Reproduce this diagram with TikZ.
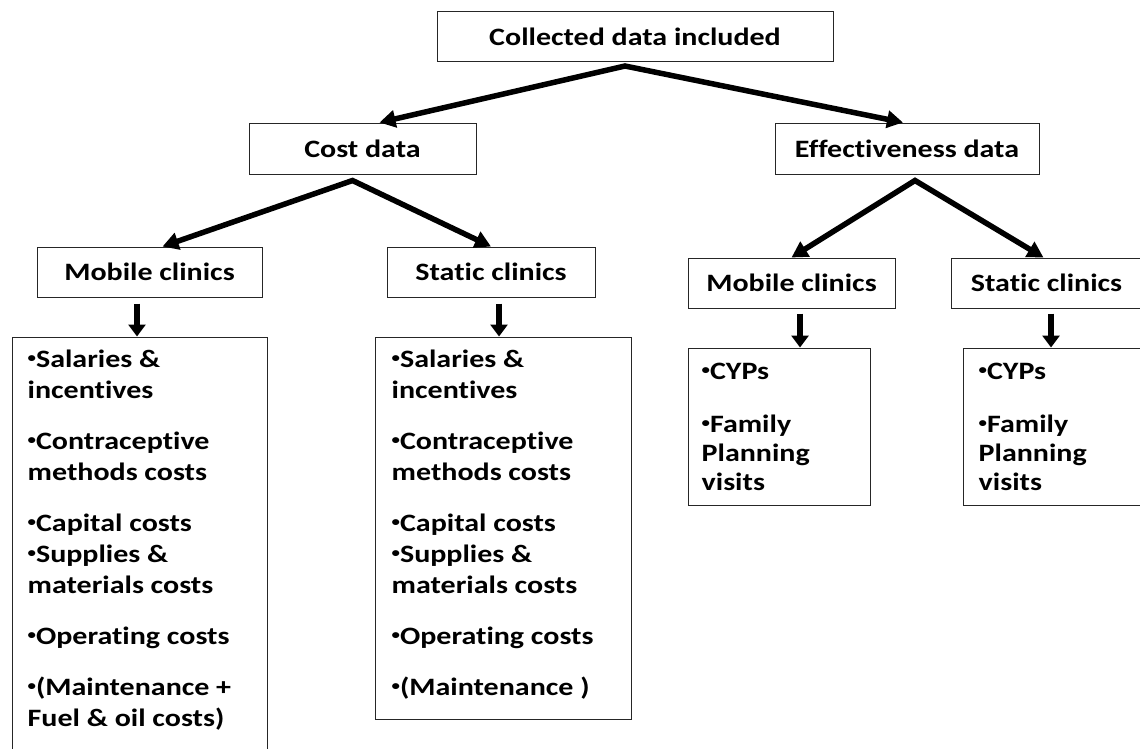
\documentclass[tikz,border=0pt]{standalone}
\usepackage{fontspec}
\setmainfont{Carlito}[FakeStretch=1.2, Ligatures=NoCommon]
\usetikzlibrary{arrows.meta}

\newcommand{\itm}{{\fontsize{14}{14}\selectfont\raisebox{5pt}{•}}}

\begin{document}
\begin{tikzpicture}[x=1pt, y=-1pt,
  box/.style = {draw=black!85, line width=1pt, minimum height=50pt, inner sep=0pt, font=\fontsize{25}{31}\selectfont\bfseries},
  listbox/.style = {draw=black!85, line width=1pt, inner sep=0pt},
  items/.style = {anchor=base west, inner sep=0pt, font=\fontsize{25}{31}\selectfont\bfseries},
  cyps/.style = {anchor=base west, inner sep=0pt, font=\fontsize{25}{29}\selectfont\bfseries},
  arr/.style = {line width=5.5pt, {Triangle[length=16pt, width=17pt]}-{Triangle[length=16pt, width=17pt]}},
  darr/.style = {line width=5.5pt, -{Triangle[length=12pt, width=17pt]}}]

\useasboundingbox (0, 0) rectangle (1140, 748);
\clip (0, 0) rectangle (1140, 748);

% boxes
\node[box, minimum width=396pt] (top) at (635, 36.5) {Collected data included};

\node[box, minimum width=227pt, minimum height=51pt] (cost) at (362.5, 148.5) {Cost data};
\node[box, minimum width=264pt, minimum height=51pt] (eff) at (907, 148.5) {Effectiveness data};

\node[box, minimum width=225pt] (mobA) at (149.5, 272) {Mobile clinics};
\node[box, minimum width=208pt] (statA) at (491, 272) {Static clinics};
\node[box, minimum width=207pt] (mobB) at (791.5, 283) {Mobile clinics};
\node[box, minimum width=191pt] (statB) at (1046.5, 283) {Static clinics};

\node[listbox, minimum width=255pt, minimum height=440pt] (listA) at (139.5, 557) {};
\node[listbox, minimum width=256pt, minimum height=382pt] (listB) at (503, 528) {};
\node[listbox, minimum width=182pt, minimum height=157pt] (cypA) at (779, 426.5) {};
\node[listbox, minimum width=182pt, minimum height=157pt] (cypB) at (1054, 426.5) {};

% lists
\node[items] (itemsA) at ([shift={(16pt,-31pt)}]listA.north west) {\begin{tabular}[t]{@{}l@{}}
  \itm Salaries \&\\ incentives\\[20pt]
  \itm Contraceptive\\ methods costs\\[20pt]
  \itm Capital costs\\ \itm Supplies \&\\ materials costs\\[20pt]
  \itm Operating costs\\[20pt]
  \itm (Maintenance +\\ Fuel \& oil costs)
\end{tabular}};
\node[items] (itemsB) at ([shift={(17pt,-31pt)}]listB.north west) {\begin{tabular}[t]{@{}l@{}}
  \itm Salaries \&\\ incentives\\[20pt]
  \itm Contraceptive\\ methods costs\\[20pt]
  \itm Capital costs\\ \itm Supplies \&\\ materials costs\\[20pt]
  \itm Operating costs\\[20pt]
  \itm (Maintenance )
\end{tabular}};
\node[cyps] (cypsA) at ([shift={(14pt,-32pt)}]cypA.north west) {\begin{tabular}[t]{@{}l@{}}
  \itm CYPs\\[24pt] \itm Family\\ Planning\\ visits
\end{tabular}};
\node[cyps] (cypsB) at ([shift={(16pt,-32pt)}]cypB.north west) {\begin{tabular}[t]{@{}l@{}}
  \itm CYPs\\[24pt] \itm Family\\ Planning\\ visits
\end{tabular}};

% arrows
\draw[arr] ([xshift=17pt]cost.north) -- ([xshift=-10pt, yshift=-4pt]top.south) -- ([xshift=-4pt]eff.north);
\draw[arr] ([xshift=13pt]mobA.north) -- ([xshift=-10pt, yshift=-6pt]cost.south) -- (statA.north);
\draw[arr] (mobB.north) -- ([xshift=8pt, yshift=-6pt]eff.south) -- ([xshift=-3pt]statB.north);

\draw[darr] ([xshift=-12.5pt, yshift=-6pt]mobA.south) -- ([xshift=-12.5pt]mobA.south |- listA.north);
\draw[darr] ([xshift=8pt, yshift=-6pt]statA.south) -- ([xshift=8pt]statA.south |- listB.north);
\draw[darr] ([xshift=8.5pt, yshift=-5pt]mobB.south) -- ([xshift=8.5pt]mobB.south |- cypA.north);
\draw[darr] ([xshift=4.5pt, yshift=-5pt]statB.south) -- ([xshift=4.5pt]statB.south |- cypB.north);
\end{tikzpicture}
\end{document}
